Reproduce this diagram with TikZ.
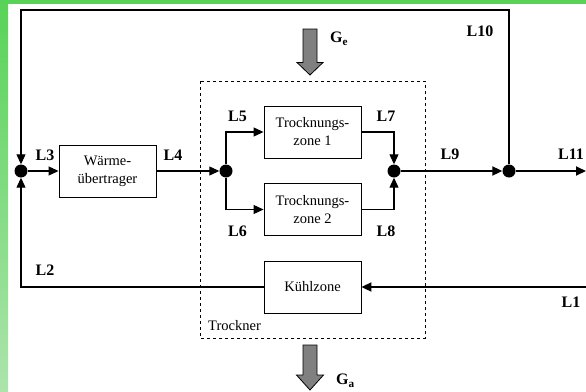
\documentclass[tikz,border=0pt]{standalone}
\usepackage{fontspec}
\setmainfont{Liberation Serif}
\usetikzlibrary{arrows.meta}
\definecolor{gtop}{RGB}{88,211,88}
\definecolor{gbot}{RGB}{172,228,172}
\definecolor{blk}{RGB}{128,128,128}
\begin{document}
\begin{tikzpicture}[x=1pt,y=-1pt,
  box/.style={draw, line width=0.9pt, minimum width=97pt, minimum height=52pt, inner sep=0pt, align=center, font=\fontsize{14.5}{18}\selectfont},
  lab/.style={font=\fontsize{16}{16}\selectfont\bfseries, inner sep=0pt},
  txt/.style={font=\fontsize{14.5}{14.5}\selectfont, inner sep=0pt},
  dot/.style={circle, fill=black, minimum size=13pt, inner sep=0pt},
  flow/.style={line width=1.1pt, -{Triangle[length=10pt,width=9pt]}},
  main/.style={flow, line width=2pt},
  garrow/.style={fill=blk, draw=black, line width=0.8pt}
]
\useasboundingbox (0,0) rectangle (586,391);
\fill[white] (0,0) rectangle (586,391);
\fill[gtop] (0,0) rectangle (586,4);
\shade[top color=gtop, bottom color=gbot] (0,0) rectangle (8,391);

% dashed dryer frame
\draw[dashed, line width=0.8pt] (200,81) rectangle (425,338);
\node[txt, anchor=west] (tr) at (208,326) {Trockner};

% nodes
\node[dot] (dL) at (21,171) {};
\node[box] (wt) at (107.5,171) {Wärme-\\übertrager};
\node[dot] (dS) at (226,171) {};
\node[box] (t1) at (312.5,132) {Trocknungs-\\zone 1};
\node[box] (t2) at (312.5,209.5) {Trocknungs-\\zone 2};
\node[dot] (dM) at (394,171) {};
\node[dot] (dR) at (509,171) {};
\node[box] (kz) at (312.5,287) {Kühlzone};

\coordinate (topR) at (509,10);
\coordinate (topL) at (21,10);
\coordinate (outR) at (586,171);
\coordinate (inR) at (586,287);
\coordinate (bl) at (21,287);

% connectors
\draw[flow] (dR.north) -- (topR) -- (topL) -- (dL.north);
\draw[main] (inR) -- (kz.east);
\draw[flow] (kz.west) -- (bl) -- (dL.south);
\draw[flow] (dL.east) -- (wt.west);
\draw[flow] (wt.east) -- (dS.west);
\draw[flow] (dS.north) |- (t1.west);
\draw[flow] (dS.south) |- (t2.west);
\draw[flow] (t1.east) -| (dM.north);
\draw[flow] (t2.east) -| (dM.south);
\draw[main] (dM.east) -- (dR.west);
\draw[main] (dR.east) -- (outR);

% labels
\node[lab] (l1) at (571,302) {L1};
\node[lab] (l2) at (45,270) {L2};
\node[lab] (l3) at (45,155) {L3};
\node[lab] (l4) at (173,155) {L4};
\node[lab] (l5) at (237.5,116) {L5};
\node[lab] (l6) at (237.5,231.5) {L6};
\node[lab] (l7) at (386,116) {L7};
\node[lab] (l8) at (386,231.5) {L8};
\node[lab] (l9) at (450,154) {L9};
\node[lab] (l10) at (480,31) {L10};
\node[lab] (l11) at (571,154) {L11};

% material flows
\draw[garrow] (303,29) -- (317,29) -- (317,62.5) -- (323,62.5) -- (310,75) -- (297,62.5) -- (303,62.5) -- cycle;
\draw[garrow] (303,345) -- (317,345) -- (317,375) -- (323.5,375) -- (310,390) -- (296.5,375) -- (303,375) -- cycle;
\node[lab, anchor=west] (ge) at (330,39) {G\textsubscript{e}};
\node[lab, anchor=west] (ga) at (336,381) {G\textsubscript{a}};
\end{tikzpicture}
\end{document}
